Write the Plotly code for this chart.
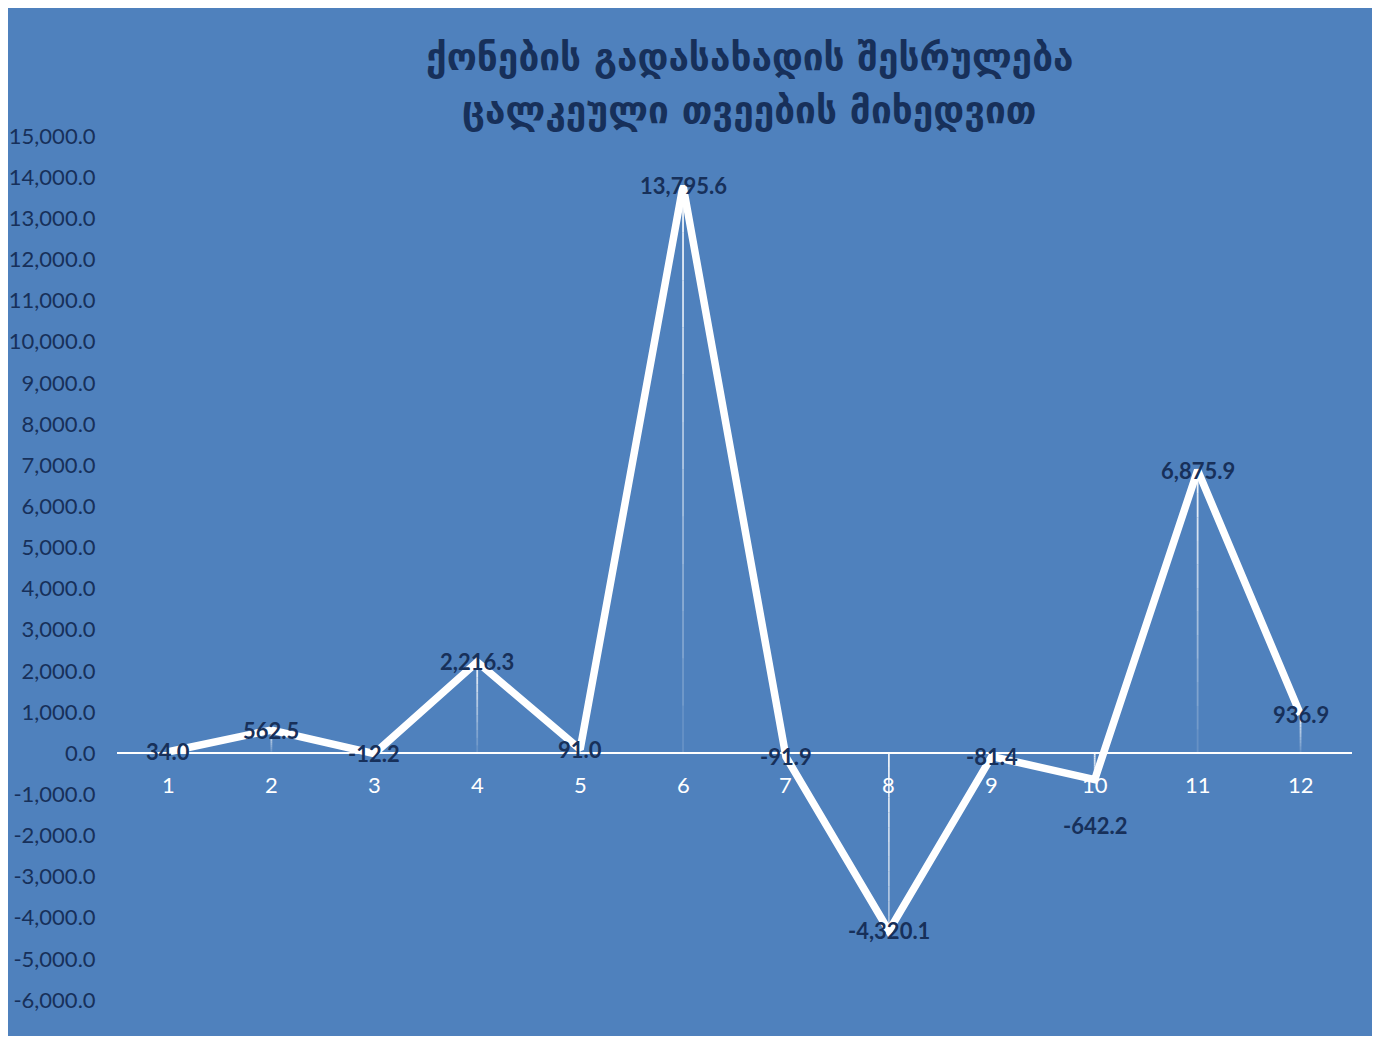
import plotly.graph_objects as go

months = [1, 2, 3, 4, 5, 6, 7, 8, 9, 10, 11, 12]
values = [34.0, 562.5, -12.2, 2216.3, 91.0, 13795.6, -91.9, -4320.1, -81.4, -642.2, 6875.9, 936.9]
labels = ["34.0", "562.5", "-12.2", "2,216.3", "91.0", "13,795.6", "-91.9", "-4,320.1",
          "-81.4", "-642.2", "6,875.9", "936.9"]
label_shift = [0, 0, 0, 0, 0, 0, 0, 0, 0, -46, 0, 0]
ytick_vals = list(range(-6000, 15001, 1000))
ytick_text = [f"{v:,.1f}" for v in ytick_vals]
title_lines = ["ქონების გადასახადის შესრულება", "ცალკეული თვეების მიხედვით"]

BG = "#4F81BD"
NAVY = "#17305A"

W, H = 1366, 1028
OFF = 8
plot_left, plot_right = 116.5 - OFF, 1352.5 - OFF
plot_top, plot_bot = 136 - OFF, 1000 - OFF
ph = plot_bot - plot_top

fig = go.Figure()

shapes = []
nseg = 12
for m, v in zip(months, values):
    for k in range(nseg):
        y0 = v * k / nseg
        y1 = v * (k + 1) / nseg
        f = (k + 0.5) / nseg
        if v >= 0:
            op = 0.1 + 0.85 * f
        else:
            op = 0.9 - 0.45 * f
        shapes.append(dict(type="line", xref="x", yref="y", x0=m, x1=m, y0=y0, y1=y1,
                           line=dict(color=f"rgba(255,255,255,{op:.3f})", width=1.8),
                           layer="below"))

fig.add_trace(go.Scatter(x=months, y=values, mode="lines",
                         line=dict(color="white", width=7.5), hoverinfo="skip"))

annotations = []
for m, v, t, s in zip(months, values, labels, label_shift):
    annotations.append(dict(x=m, y=v, xref="x", yref="y", text=f"<b>{t}</b>", showarrow=False,
                            yshift=s, font=dict(family="Lato", size=22, color=NAVY)))
for m in months:
    annotations.append(dict(x=m, y=0, xref="x", yref="y", text=str(m), showarrow=False,
                            yshift=-31, font=dict(family="Lato", size=22, color="white")))
title_x = (750 - OFF - plot_left) / (plot_right - plot_left)
for line, yc in zip(title_lines, [57, 110]):
    annotations.append(dict(x=title_x, y=1 + (136 - yc) / ph, xref="paper", yref="paper",
                            text=f"<b>{line}</b>", showarrow=False, xanchor="center", yanchor="middle",
                            font=dict(family="DejaVu Sans", size=37, color=NAVY)))

fig.update_layout(
    width=W, height=H,
    margin=dict(l=plot_left, r=W - plot_right, t=plot_top, b=H - plot_bot),
    paper_bgcolor=BG, plot_bgcolor=BG,
    showlegend=False,
    shapes=shapes,
    annotations=annotations,
    xaxis=dict(range=[0.5, 12.5], showgrid=False, zeroline=False, showticklabels=False,
               showline=False, fixedrange=True, automargin=False),
    yaxis=dict(range=[-6000, 15000], tickvals=ytick_vals, ticktext=ytick_text,
               showgrid=False, zeroline=True, zerolinecolor="white", zerolinewidth=2,
               showline=False, ticks="outside", ticklen=16, tickcolor="rgba(0,0,0,0)",
               automargin=False,
               tickfont=dict(family="Lato", size=22, color=NAVY)),
)

fig.write_html("out.html")
